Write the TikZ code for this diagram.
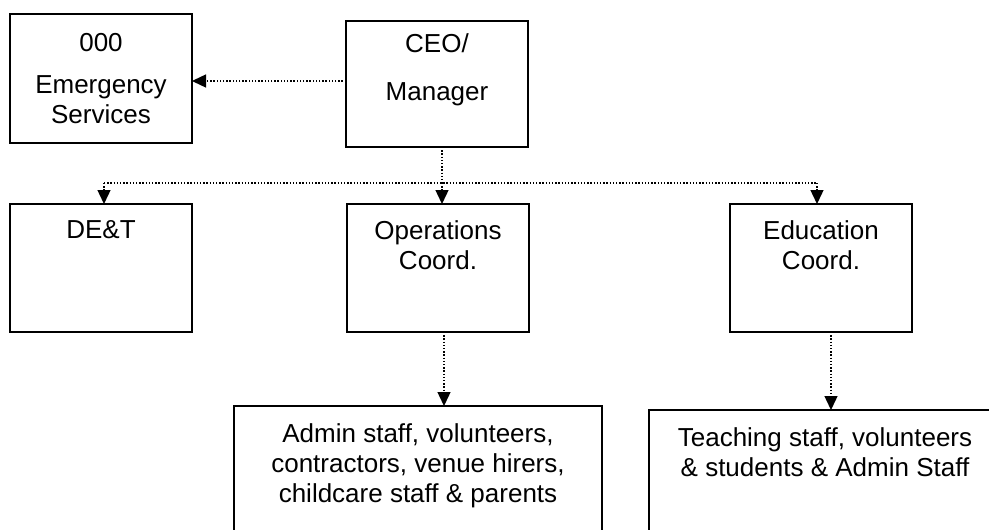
\documentclass[tikz,border=0pt]{standalone}
\usepackage{fontspec}
\setmainfont{Liberation Sans}
\usetikzlibrary{arrows.meta}
\newcommand{\boxtxt}[4]{\parbox[t][#2pt][t]{#1pt}{\fontsize{26pt}{30pt}\selectfont\centering\vspace*{#3pt}\strut #4\par}}
\tikzset{
  orgbox/.style={draw, line width=1.7pt, inner sep=0pt, outer sep=0pt, anchor=north west},
  conn/.style={line width=1.4pt, dash pattern=on 1.4pt off 1.8pt},
  arr/.style={conn, -{Triangle[width=13pt,length=14pt]}}
}
\begin{document}
\begin{tikzpicture}[x=1pt,y=-1pt]
\useasboundingbox (0,0) rectangle (989,530);
\clip (0,0) rectangle (989,530);
\fill[white] (0,0) rectangle (989,530);
\node[orgbox] (emerg) at (10,14) {\boxtxt{182}{129}{16}{000\\[13pt]Emergency\\Services}};
\node[orgbox] (ceo) at (346,21) {\boxtxt{182}{126}{11}{CEO/\\[17pt]Manager}};
\node[orgbox] (det) at (10,204) {\boxtxt{182}{128}{13}{DE\&T}};
\node[orgbox] (ops) at (347,204) {\boxtxt{182}{128}{14}{Operations\\Coord.}};
\node[orgbox] (edu) at (730,204) {\boxtxt{182}{128}{14}{Education\\Coord.}};
\node[orgbox] (admin) at (234,406) {\boxtxt{368}{200}{15}{Admin staff, volunteers,\\contractors, venue hirers,\\childcare staff \& parents}};
\node[orgbox] (teach) at (649,410) {\boxtxt{352}{200}{15}{Teaching staff, volunteers\\\& students \& Admin Staff}};
\coordinate (hub) at (442,183);
\coordinate (lft) at (104,183);
\coordinate (rgt) at (817,183);
\draw[arr] ([yshift=3pt]ceo.west) -- ([yshift=3pt]ceo.west -| emerg.east);
\draw[conn] (ceo.south -| hub) -- (hub);
\draw[conn, line width=1.1pt] (lft) -- (rgt);
\draw[arr] (lft) -- (lft |- det.north);
\draw[arr] (hub) -- (hub |- ops.north);
\draw[arr] (rgt) -- (rgt |- edu.north);
\draw[arr] ([xshift=6pt]ops.south) -- ([xshift=6pt]ops.south |- admin.north);
\draw[arr] ([xshift=10pt]edu.south) -- ([xshift=10pt]edu.south |- teach.north);
\end{tikzpicture}
\end{document}
